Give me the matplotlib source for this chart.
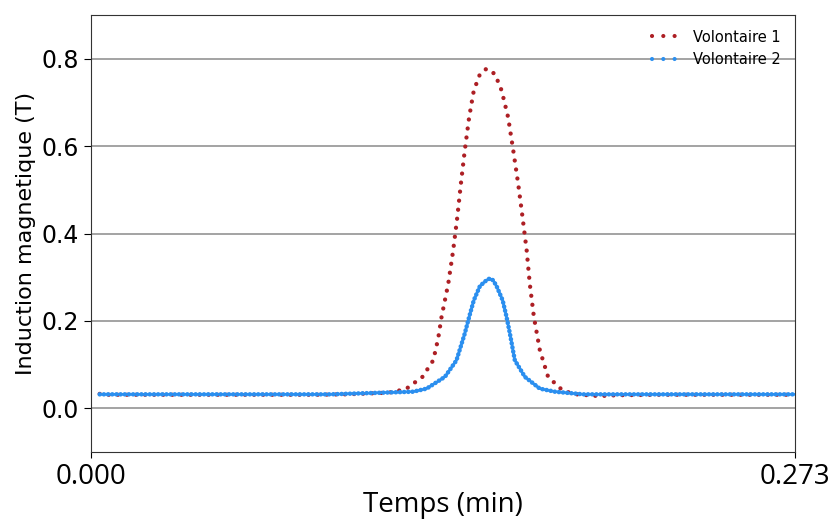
import matplotlib
matplotlib.use("Agg")
import matplotlib.pyplot as plt

# Volontaire 1
t1 = [0.0035, 0.006, 0.02, 0.058, 0.087, 0.0992, 0.1121, 0.1171, 0.1224, 0.1286,
      0.1328, 0.1347, 0.1360, 0.1386, 0.1405, 0.1421, 0.1435, 0.1450, 0.1467,
      0.1485, 0.1509, 0.1534, 0.1567, 0.1593, 0.1618, 0.1638, 0.1657, 0.1674,
      0.1690, 0.1702, 0.1718, 0.1741, 0.1773, 0.1831, 0.1883, 0.197, 0.204,
      0.22, 0.273]
b1 = [0.033, 0.031, 0.031, 0.031, 0.031, 0.032, 0.035, 0.037, 0.045, 0.072,
      0.110, 0.160, 0.209, 0.285, 0.361, 0.437, 0.514, 0.590, 0.666,
      0.727, 0.765, 0.777, 0.765, 0.727, 0.666, 0.590, 0.514, 0.437,
      0.361, 0.285, 0.209, 0.133, 0.072, 0.040, 0.032, 0.028, 0.030,
      0.031, 0.031]

# Volontaire 2
t2 = [0.0035, 0.05, 0.0927, 0.1249, 0.1302, 0.1373, 0.1418, 0.1450, 0.1467,
      0.1485, 0.1509, 0.1536, 0.1547, 0.1560, 0.1573, 0.1597, 0.1612, 0.1625,
      0.1644, 0.1683, 0.1741, 0.1800, 0.1909, 0.23, 0.273]
b2 = [0.032, 0.032, 0.032, 0.038, 0.045, 0.072, 0.110, 0.171, 0.209,
      0.247, 0.280, 0.294, 0.297, 0.293, 0.280, 0.247, 0.209, 0.171,
      0.110, 0.072, 0.045, 0.038, 0.032, 0.032, 0.032]

fig = plt.figure(figsize=(8.32, 5.21), dpi=100)
ax = fig.add_axes([0.109, 0.1324, 0.8465, 0.8388])

ax.plot(t1, b1, color="#ad1f24", linewidth=3.1, linestyle=(0, (0.01, 2.1)),
        dash_capstyle="round", label="Volontaire 1", zorder=3)
# dense blue points: thin solid core under the dots
ax.plot(t2, b2, color="#2b8fef", linewidth=1.8, zorder=4)
ax.plot(t2, b2, color="#2b8fef", linewidth=3.3, linestyle=(0, (0.01, 0.9)),
        dash_capstyle="round", label="Volontaire 2", zorder=4)

ax.set_xlim(0, 0.273)
ax.set_ylim(-0.1, 0.9)
ax.set_xticks([0.0, 0.273])
ax.set_xticklabels(["0.000", "0.273"], fontfamily="Open Sans", fontsize=20)
ax.set_yticks([0.0, 0.2, 0.4, 0.6, 0.8])
ax.set_yticklabels(["0.0", "0.2", "0.4", "0.6", "0.8"])
ax.tick_params(axis="y", labelsize=17, length=5)
ax.tick_params(axis="x", length=4, pad=4)
ax.yaxis.grid(True, color="#8a8a8a", linewidth=1.1)
ax.set_axisbelow(True)
for s in ax.spines.values():
    s.set_color("#333333")

ax.set_xlabel("Temps (min)", fontfamily="Open Sans", fontsize=20, labelpad=0)
ax.set_ylabel("Induction magnetique (T)", fontsize=16, labelpad=4)

leg = ax.legend(loc="upper right", frameon=False, fontsize=10.5, handlelength=2.0,
                borderaxespad=0.6)
for ln in leg.get_lines():
    ln.set_linewidth(3.0)
    ln.set_linestyle((0, (0.01, 2.7)))

fig.savefig("out.png", dpi=100)
